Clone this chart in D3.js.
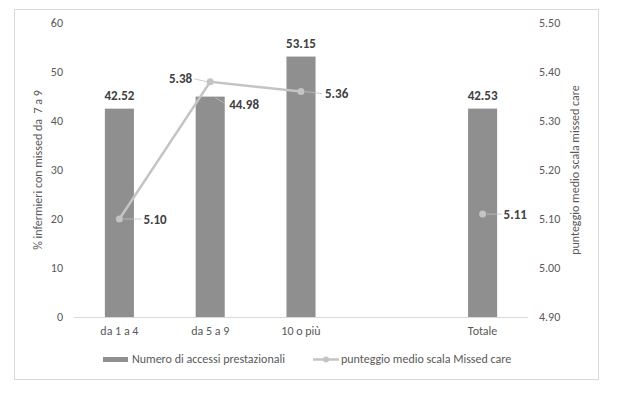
<!DOCTYPE html>
<html>
<head>
<meta charset="utf-8">
<script src="https://cdn.jsdelivr.net/npm/d3@7"></script>
<style>
  body { margin: 0; background: #fff; }
  svg { font-family: Carlito, Calibri, Lato, sans-serif; }
  .tick text { fill: #595959; font-size: 12px; }
  .lbl { fill: #404040; font-size: 13px; font-weight: bold; }
</style>
</head>
<body>
<svg width="617" height="393"></svg>
<script>
// chart data
var categories = ["da 1 a 4", "da 5 a 9", "10 o più", "", "Totale"];
var accessi = [42.52, 44.98, 53.15, null, 42.53];
var punteggio = [5.10, 5.38, 5.36, null, 5.11];
var leftTicks = [0, 10, 20, 30, 40, 50, 60];
var rightTicks = [4.90, 5.00, 5.10, 5.20, 5.30, 5.40, 5.50];
var barName = "Numero di accessi prestazionali";
var lineName = "punteggio medio scala Missed care";

var barColor = "#8f8f8f", lineColor = "#c4c4c4";
var plot = { left: 74, right: 528, top: 23, bottom: 317 };

var svg = d3.select("svg");

svg.append("rect")
    .attr("x", 14.5).attr("y", 9.5)
    .attr("width", 584).attr("height", 370)
    .attr("fill", "#fff").attr("stroke", "#d9d9d9");

var x = d3.scaleBand().domain(categories)
    .range([plot.left, plot.right])
    .paddingInner(0.68).paddingOuter(0.34);
var y = d3.scaleLinear().domain([0, 60]).range([plot.bottom, plot.top]);
var y2 = d3.scaleLinear().domain([4.9, 5.5]).range([plot.bottom, plot.top]);

// axes (no domain lines)
var gl = svg.append("g").attr("transform", "translate(" + (plot.left - 7) + ",0)")
    .call(d3.axisLeft(y).tickValues(leftTicks).tickSize(0).tickPadding(4));
gl.select(".domain").remove();

var gr = svg.append("g").attr("transform", "translate(" + (plot.right + 11) + ",0)")
    .call(d3.axisRight(y2).tickValues(rightTicks).tickSize(0).tickPadding(0)
        .tickFormat(d3.format(".2f")));
gr.select(".domain").remove();

var gx = svg.append("g").attr("transform", "translate(0," + plot.bottom + ")")
    .call(d3.axisBottom(x).tickSize(0).tickPadding(9));
gx.select(".domain").remove();

svg.selectAll(".tick text").attr("font-family", "Carlito, Calibri, Lato, sans-serif");

// axis titles
svg.append("text")
    .attr("transform", "translate(42,170) rotate(-90)")
    .attr("text-anchor", "middle")
    .style("font-size", "12px").style("fill", "#595959")
    .attr("xml:space", "preserve")
    .text("% infermieri con missed da  7 a 9");
svg.append("text")
    .attr("transform", "translate(579,170) rotate(-90)")
    .attr("text-anchor", "middle")
    .style("font-size", "12px").style("fill", "#595959")
    .text("punteggio medio scala missed care");

// bars
var cx = function (i) { return x(categories[i]) + x.bandwidth() / 2; };
svg.selectAll(".bar")
    .data(accessi.map(function (v, i) { return { v: v, i: i }; }).filter(function (d) { return d.v != null; }))
    .enter().append("rect")
    .attr("class", "bar")
    .attr("x", function (d) { return x(categories[d.i]); })
    .attr("width", x.bandwidth())
    .attr("y", function (d) { return y(d.v); })
    .attr("height", function (d) { return plot.bottom - y(d.v); })
    .attr("fill", barColor);

// baseline
svg.append("line")
    .attr("x1", plot.left).attr("x2", plot.right)
    .attr("y1", plot.bottom + 0.5).attr("y2", plot.bottom + 0.5)
    .attr("stroke", "#d9d9d9");

// line series, gap where the value is missing
var lineGen = d3.line()
    .defined(function (d) { return d != null; })
    .x(function (d, i) { return cx(i); })
    .y(function (d) { return y2(d); });
svg.append("path")
    .datum(punteggio)
    .attr("fill", "none")
    .attr("stroke", lineColor)
    .attr("stroke-width", 2.5)
    .attr("d", lineGen);

// label placement: dx, dy from the mark, anchor, leader line
var barLabelPos = [null, { dx: 19, dy: 8, anchor: "start", lead: [5, 1, 15, 7] }, null, null, null];
var lineLabelPos = [
    { dx: 24, dy: 0, anchor: "start", lead: [4, 0, 22, 0] },
    { dx: -18, dy: -3, anchor: "end", lead: [-3, 0, -16, -3] },
    { dx: 24, dy: 2, anchor: "start", lead: [4, 0, 21, 2] },
    null,
    { dx: 21, dy: 0, anchor: "start", lead: [4, 0, 19, 0] }
];

function leader(x0, y0, l) {
    svg.append("line")
        .attr("x1", x0 + l[0]).attr("y1", y0 + l[1])
        .attr("x2", x0 + l[2]).attr("y2", y0 + l[3])
        .attr("stroke", "#bfbfbf").attr("stroke-width", 0.8);
}

accessi.forEach(function (v, i) {
    if (v == null) return;
    var p = barLabelPos[i], bx = cx(i), by = y(v);
    if (p) {
        leader(bx, by, p.lead);
        svg.append("text").attr("class", "lbl")
            .attr("x", bx + p.dx).attr("y", by + p.dy).attr("dy", "0.35em")
            .attr("text-anchor", p.anchor).text(v.toFixed(2));
    } else {
        svg.append("text").attr("class", "lbl")
            .attr("x", bx).attr("y", by - 9)
            .attr("text-anchor", "middle").text(v.toFixed(2));
    }
});

punteggio.forEach(function (v, i) {
    if (v == null) return;
    var p = lineLabelPos[i], px = cx(i), py = y2(v);
    leader(px, py, p.lead);
    svg.append("circle")
        .attr("cx", px).attr("cy", py).attr("r", 3.5)
        .attr("fill", lineColor);
    svg.append("text").attr("class", "lbl")
        .attr("x", px + p.dx).attr("y", py + p.dy).attr("dy", "0.35em")
        .attr("text-anchor", p.anchor).text(v.toFixed(2));
});

// legend
var lg = svg.append("g").style("font-size", "12px").style("fill", "#595959");
lg.append("rect").attr("x", 103).attr("y", 357).attr("width", 25).attr("height", 5).attr("fill", barColor);
lg.append("text").attr("x", 132).attr("y", 359).attr("dy", "0.35em").text(barName);
lg.append("line").attr("x1", 313).attr("x2", 339).attr("y1", 359.5).attr("y2", 359.5)
    .attr("stroke", lineColor).attr("stroke-width", 2.5);
lg.append("circle").attr("cx", 326).attr("cy", 359.5).attr("r", 3).attr("fill", lineColor);
lg.append("text").attr("x", 341).attr("y", 359).attr("dy", "0.35em").text(lineName);
</script>
</body>
</html>
